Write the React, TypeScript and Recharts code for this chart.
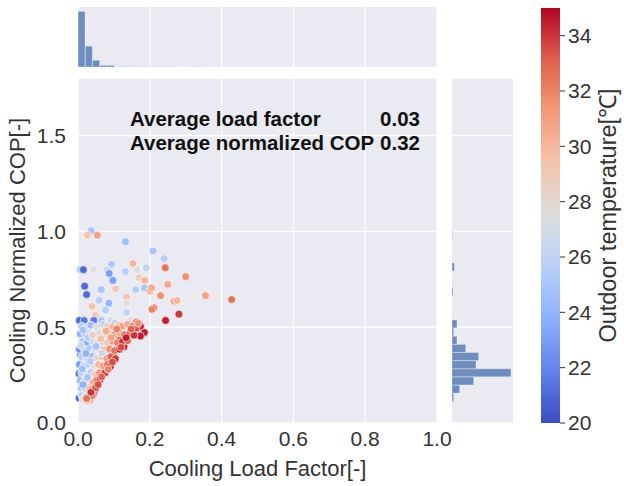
import React from 'react';
import {
  ScatterChart,
  Scatter,
  XAxis,
  YAxis,
  CartesianGrid,
  BarChart,
  Bar,
  ComposedChart,
  ReferenceArea,
  Label,
} from 'recharts';

// ---------------- data ----------------
const xTicks = [0, 0.2, 0.4, 0.6, 0.8, 1.0];
const yTicks = [0, 0.5, 1.0, 1.5];
const tempTicks = [20, 22, 24, 26, 28, 30, 32, 34];
const tempRange = [20, 35];

const avgLoadFactor = 0.03;
const avgNormalizedCop = 0.32;

// scatter: cooling load factor, normalized COP, outdoor temperature
const loadFactor = [
  0.037, 0.026, 0.054, 0.132, 0.209, 0.24, 0.093, 0.153, 0.243, 0.006,
  0.015, 0.044, 0.081, 0.087, 0.132, 0.165, 0.19, 0.097, 0.169, 0.186,
  0.3, 0.25, 0.0185, 0.024, 0.065, 0.105, 0.161, 0.185, 0.2, 0.205,
  0.23, 0.059, 0.086, 0.135, 0.135, 0.267, 0.276, 0.355, 0.428, 0.039,
  0.077, 0.135, 0.211, 0.206, 0.244, 0.281, 0.056, 0.049, 0.004, 0.017,
  0.044, 0.065, 0.091, 0.103, 0.146, 0.163, 0.174, 0.185, 0.174, 0.128,
  0.114, 0.1, 0.089, 0.077, 0.058, 0.046, 0.043, 0.017, 0.033, 0.007,
  0.003, 0.003,
  0.01, 0.024, 0.036, 0.052, 0.07, 0.082, 0.096, 0.112, 0.124, 0.138, 0.152, 0.162,
  0.006, 0.02, 0.032, 0.046, 0.06, 0.074, 0.088, 0.102, 0.116, 0.13, 0.144, 0.156,
  0.012, 0.026, 0.04, 0.054, 0.068, 0.082, 0.096, 0.11, 0.124, 0.138,
  0.004, 0.018, 0.032, 0.046, 0.06, 0.074, 0.088, 0.102, 0.116,
  0.01, 0.024, 0.038, 0.052, 0.066, 0.08, 0.092, 0.104,
  0.004, 0.016, 0.03, 0.044, 0.058, 0.07, 0.082, 0.09,
  0.01, 0.024, 0.036, 0.048, 0.06, 0.07, 0.076,
  0.006, 0.018, 0.03, 0.042, 0.052, 0.062,
  0.008, 0.02, 0.03, 0.04, 0.05,
  0.01, 0.022, 0.03, 0.04,
  0.014, 0.026,
  0.014, 0.028, 0.008, 0.022, 0.034, 0.012, 0.026, 0.014, 0.04, 0.05,
  0.064, 0.078, 0.092, 0.108, 0.066,
  0.12, 0.134, 0.148, 0.168, 0.096, 0.084, 0.066, 0.056, 0.036, 0.024,
];
const normalizedCop = [
  1.003, 0.98, 0.98, 0.946, 0.898, 0.858, 0.828, 0.832, 0.81, 0.8,
  0.8, 0.8, 0.8, 0.78, 0.79, 0.8, 0.81, 0.744, 0.758, 0.744,
  0.763, 0.723, 0.714, 0.67, 0.696, 0.7, 0.696, 0.705, 0.688, 0.705,
  0.665, 0.64, 0.625, 0.656, 0.626, 0.635, 0.639, 0.665, 0.644, 0.609,
  0.59, 0.577, 0.6, 0.593, 0.535, 0.568, 0.556, 0.562, 0.535, 0.535,
  0.535, 0.535, 0.535, 0.521, 0.535, 0.526, 0.504, 0.472, 0.454, 0.398,
  0.437, 0.354, 0.319, 0.284, 0.223, 0.17, 0.15, 0.118, 0.118, 0.354,
  0.258, 0.13,
  0.505, 0.5, 0.51, 0.5, 0.515, 0.505, 0.5, 0.512, 0.505, 0.515, 0.505, 0.495,
  0.465, 0.46, 0.47, 0.462, 0.468, 0.46, 0.47, 0.462, 0.47, 0.46, 0.468, 0.458,
  0.425, 0.42, 0.428, 0.418, 0.425, 0.42, 0.428, 0.418, 0.425, 0.43,
  0.385, 0.38, 0.388, 0.378, 0.385, 0.38, 0.386, 0.378, 0.385,
  0.345, 0.34, 0.348, 0.338, 0.345, 0.338, 0.345, 0.335,
  0.305, 0.3, 0.308, 0.298, 0.305, 0.298, 0.305, 0.295,
  0.262, 0.258, 0.265, 0.255, 0.262, 0.255, 0.262,
  0.222, 0.218, 0.225, 0.215, 0.222, 0.228,
  0.182, 0.178, 0.185, 0.175, 0.185,
  0.145, 0.14, 0.135, 0.142,
  0.12, 0.115,
  0.485, 0.445, 0.405, 0.362, 0.322, 0.282, 0.238, 0.2, 0.458, 0.4,
  0.44, 0.48, 0.445, 0.49, 0.365,
  0.395, 0.445, 0.49, 0.52, 0.318, 0.28, 0.24, 0.2, 0.16, 0.128,
];
const outdoorTemp = [
  25, 29.5, 31, 24.5, 25, 25.5, 25, 30, 32.5, 25.5,
  21, 27.5, 27, 23, 25.5, 27.5, 26, 23, 28.5, 30,
  31.5, 30.5, 21, 21, 25, 29, 25.5, 25, 30, 30.5,
  31.5, 25.5, 24, 29.5, 27.5, 30.5, 30, 31, 32.5, 29.5,
  25.5, 26, 32.5, 32, 34.5, 34, 27.5, 29, 21, 21.5,
  21.5, 25, 27, 25.5, 27.5, 32.5, 34.5, 34.5, 34.5, 34.5,
  33.5, 33.5, 34, 31.5, 34.5, 34.5, 33.5, 30, 31, 21,
  21, 21,
  25.5, 26.5, 24.5, 27.5, 26, 28.5, 30, 29, 31, 30.5, 32, 33.5,
  24, 25.5, 27, 25.8, 28, 27, 29.5, 31, 30.5, 32.5, 33, 34,
  25, 23.5, 26.5, 28, 26, 29, 31.5, 32, 34, 33,
  22.5, 26, 25, 27.5, 28.5, 30, 31.5, 32.5, 34.5,
  25.5, 27, 24.5, 28, 29.5, 31, 33, 34,
  23, 26.5, 25, 27.5, 30, 31, 32.5, 34.5,
  25.5, 27.5, 26, 29, 31.5, 33, 34,
  24.5, 27, 28.5, 30.5, 32, 34.5,
  25.5, 26.5, 29.5, 31.5, 33.5,
  26, 28, 30.5, 32,
  27.5, 29.5,
  24.8, 25.5, 26.5, 24, 25.5, 24.5, 25, 24, 28.5, 24.8,
  29.5, 30.5, 31, 32, 26.5,
  33.5, 34.5, 33, 31.5, 33.5, 32, 33, 33.5, 34, 32.5,
];

// marginal histogram of load factor (bin centre, relative count)
const loadBinCenters = [
  0.0102, 0.0305, 0.0508, 0.0711, 0.0914, 0.1117, 0.132, 0.1523, 0.1726, 0.1929, 0.2132,
  0.2335, 0.2538, 0.2741, 0.2944, 0.3147, 0.335, 0.3553, 0.3756, 0.3959, 0.4162,
];
const loadBinCounts = [
  100, 37.6, 12.2, 3.0, 3.0, 0.5, 0.6, 0.4, 0.3, 0.3, 0.2,
  0.3, 0.2, 0.1, 0.1, 0.1, 0.2, 0.1, 0.1, 0, 0.1,
];

// marginal histogram of normalized COP (bin centre, relative count)
const copBinCenters = [
  0.1339, 0.1764, 0.2189, 0.2614, 0.3039, 0.3464, 0.3889, 0.4314, 0.4739, 0.5164, 0.5589,
  0.6014, 0.6439, 0.6864, 0.7289, 0.7714, 0.8139, 0.8564, 0.8989, 0.9414, 0.9839,
];
const copBinCounts = [
  2.8, 13.0, 36.7, 100, 40.7, 45.2, 23.2, 8.5, 2.8, 8.5, 0.3,
  0.2, 0.2, 1.7, 0.2, 0.2, 4.0, 0.2, 0.2, 0.2, 0.8,
];

// ---------------- styling ----------------
const FONT = '"Liberation Sans", Arial, Helvetica, sans-serif';
const TEXT = '#333333';
const PANEL = '#EAEAF2';
const TICK_FS = 21;
const TITLE_FS = 22;
const CB_TITLE_FS = 23.5;
const NOTE_FS = 20.5;

const COOLWARM: number[][] = [
  [59, 76, 192],
  [98, 130, 234],
  [141, 176, 254],
  [184, 208, 249],
  [221, 221, 221],
  [245, 196, 173],
  [244, 154, 123],
  [222, 96, 77],
  [180, 4, 38],
];

function coolwarm(t: number): string {
  const f = Math.max(0, Math.min(1, (t - tempRange[0]) / (tempRange[1] - tempRange[0]))) * 8;
  const i = Math.min(7, Math.floor(f));
  const w = f - i;
  const a = COOLWARM[i];
  const b = COOLWARM[i + 1];
  const c = a.map((v, k) => Math.round(v + (b[k] - v) * w));
  return `rgb(${c[0]},${c[1]},${c[2]})`;
}

const points = loadFactor.map((x, i) => ({ x, y: normalizedCop[i], t: outdoorTemp[i] }));
const topHist = loadBinCenters.map((c, i) => ({ c, n: loadBinCounts[i] }));
const rightHist = copBinCenters.map((c, i) => ({ c, n: copBinCounts[i] }));
const cbData = tempRange.map((t) => ({ x: 0, t }));

const Dot = (props: any) => {
  const { cx, cy, payload } = props;
  if (cx == null || cy == null) return null;
  return <circle cx={cx} cy={cy} r={3.9} fill={coolwarm(payload.t)} stroke="#ffffff" strokeWidth={0.6} />;
};

const tickStyle = { fontSize: TICK_FS, fill: TEXT, fontFamily: FONT };

const XTitle = (props: any) => {
  const vb = props.viewBox || {};
  return (
    <text x={vb.x + vb.width / 2} y={vb.y + 53} textAnchor="middle" fontSize={TITLE_FS} fill={TEXT} fontFamily={FONT}>
      Cooling Load Factor[-]
    </text>
  );
};

const YTitle = (props: any) => {
  const vb = props.viewBox || {};
  const cx = vb.x + 17;
  const cy = vb.y + vb.height / 2;
  return (
    <text
      x={cx}
      y={cy}
      transform={`rotate(-90 ${cx} ${cy})`}
      textAnchor="middle"
      dominantBaseline="central"
      fontSize={TITLE_FS}
      fill={TEXT}
      fontFamily={FONT}
    >
      Cooling Normalized COP[-]
    </text>
  );
};

const CbTitle = (props: any) => {
  const vb = props.viewBox || {};
  const cx = vb.x + 48;
  const cy = vb.y + vb.height / 2;
  return (
    <text
      x={cx}
      y={cy}
      transform={`rotate(-90 ${cx} ${cy})`}
      textAnchor="middle"
      dominantBaseline="central"
      fontSize={CB_TITLE_FS}
      fill={TEXT}
      fontFamily={FONT}
    >
      Outdoor temperature[℃]
    </text>
  );
};

export default function App() {
  return (
    <div
      style={{
        position: 'absolute',
        left: 0,
        top: 0,
        width: 624,
        height: 486,
        background: '#ffffff',
        fontFamily: FONT,
        overflow: 'hidden',
      }}
    >
      {/* top marginal histogram */}
      <div style={{ position: 'absolute', left: 0, top: 0 }}>
        <BarChart width={460} height={67} data={topHist} margin={{ top: 7, right: 23, bottom: 0, left: 78 }} barCategoryGap={0}>
          <CartesianGrid fill={PANEL} fillOpacity={1} stroke="#ffffff" strokeWidth={1.3} horizontal={false} />
          <XAxis type="number" dataKey="c" domain={[0, 1]} ticks={xTicks} hide />
          <YAxis type="number" domain={[0, 108]} hide />
          <Bar dataKey="n" fill="#4C72B0" fillOpacity={0.78} stroke="#ffffff" strokeOpacity={0.6} strokeWidth={0.5} isAnimationActive={false} />
        </BarChart>
      </div>

      {/* main scatter */}
      <div style={{ position: 'absolute', left: 0, top: 0 }}>
        <ScatterChart width={460} height={486} margin={{ top: 78, right: 23, bottom: 0, left: 0 }} style={{ overflow: 'visible' }}>
          <CartesianGrid fill={PANEL} fillOpacity={1} stroke="#ffffff" strokeWidth={1.3} />
          <XAxis
            type="number"
            dataKey="x"
            domain={[0, 1]}
            ticks={xTicks}
            tickFormatter={(v: number) => v.toFixed(1)}
            tickLine={false}
            axisLine={false}
            tickSize={0}
            tickMargin={8}
            height={63}
            tick={tickStyle}
            interval={0}
          >
            <Label content={<XTitle />} />
          </XAxis>
          <YAxis
            type="number"
            dataKey="y"
            domain={[0, 1.8]}
            ticks={yTicks}
            tickFormatter={(v: number) => v.toFixed(1)}
            tickLine={false}
            axisLine={false}
            tickSize={0}
            tickMargin={12}
            width={78}
            tick={tickStyle}
            interval={0}
          >
            <Label content={<YTitle />} />
          </YAxis>
          <Scatter data={points} shape={<Dot />} isAnimationActive={false} />
        </ScatterChart>
      </div>

      {/* right marginal histogram */}
      <div style={{ position: 'absolute', left: 445, top: 0 }}>
        <BarChart
          layout="vertical"
          width={75}
          height={486}
          data={rightHist}
          margin={{ top: 78, right: 7, bottom: 63, left: 7 }}
          barCategoryGap={0}
        >
          <CartesianGrid fill={PANEL} fillOpacity={1} stroke="#ffffff" strokeWidth={1.3} vertical={false} />
          <YAxis type="number" dataKey="c" domain={[0, 1.8]} ticks={yTicks} reversed hide />
          <XAxis type="number" domain={[0, 103.4]} hide />
          <Bar dataKey="n" fill="#4C72B0" fillOpacity={0.78} stroke="#ffffff" strokeOpacity={0.6} strokeWidth={0.5} isAnimationActive={false} />
        </BarChart>
      </div>

      {/* colour bar */}
      <div style={{ position: 'absolute', left: 530, top: 0 }}>
        <ComposedChart width={94} height={486} data={cbData} margin={{ top: 8, right: 0, bottom: 63, left: 11 }}>
          <defs>
            <linearGradient id="cwGrad" x1="0" y1="1" x2="0" y2="0">
              {COOLWARM.map((c, i) => (
                <stop key={i} offset={`${(i / 8) * 100}%`} stopColor={`rgb(${c[0]},${c[1]},${c[2]})`} />
              ))}
            </linearGradient>
          </defs>
          <XAxis type="number" dataKey="x" domain={[0, 1]} hide />
          <YAxis
            type="number"
            dataKey="t"
            orientation="right"
            domain={tempRange}
            ticks={tempTicks}
            width={64}
            axisLine={false}
            tickLine={{ stroke: TEXT, strokeWidth: 1 }}
            tickSize={5}
            tickMargin={3}
            tick={tickStyle}
            interval={0}
          >
            <Label content={<CbTitle />} />
          </YAxis>
          <ReferenceArea x1={0} x2={1} y1={tempRange[0]} y2={tempRange[1]} fill="url(#cwGrad)" fillOpacity={1} stroke="none" ifOverflow="visible" />
        </ComposedChart>
      </div>

      {/* statistics annotation */}
      <svg width={624} height={486} style={{ position: 'absolute', left: 0, top: 0, pointerEvents: 'none' }}>
        <g fontFamily={FONT} fontSize={NOTE_FS} fontWeight="bold" fill="#111111">
          <text x={130} y={126}>Average load factor</text>
          <text x={420} y={126} textAnchor="end">{avgLoadFactor.toFixed(2)}</text>
          <text x={130} y={150}>Average normalized COP</text>
          <text x={420} y={150} textAnchor="end">{avgNormalizedCop.toFixed(2)}</text>
        </g>
      </svg>
    </div>
  );
}
